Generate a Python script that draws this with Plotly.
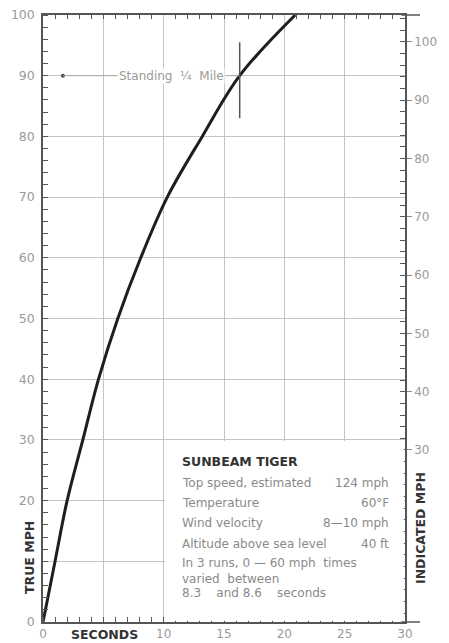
import plotly.graph_objects as go

# Data
seconds = [0, 0.4, 1.0, 2.0, 3.3, 4.6, 6.2, 8.1, 10.3, 13.2, 16.3, 20.9]
true_mph = [0, 4, 10, 20, 30, 40, 50, 60, 70, 80, 90, 100]

x_tickvals = [0, 5, 10, 15, 20, 25, 30]
x_ticktext = ["0", "", "10", "15", "20", "25", "30"]
y_tickvals = [0, 10, 20, 30, 40, 50, 60, 70, 80, 90, 100]
y_ticktext = ["0", "", "20", "30", "40", "50", "60", "70", "80", "90", "100"]
ind_tickvals = [30, 40, 50, 60, 70, 80, 90, 100]
ind_range = [0.5, 104.6]

quarter_mile_time = 16.3
quarter_mile_speed = 90
quarter_marker_time = 1.66

info_rows = [
    ("Top speed, estimated", "124 mph"),
    ("Temperature", "60°F"),
    ("Wind velocity", "8—10 mph"),
    ("Altitude above sea level", "40 ft"),
]
info_note = ["In 3 runs, 0 — 60 mph  times", "varied  between", "8.3    and 8.6    seconds"]

FONT = "DejaVu Sans"
GRAY = "#9a9a9a"
TXT = "#8a8a8a"
DARK = "#333333"
AX = "#555555"
GRID = "#c4c4c4"

W, H = 449, 643
L, R, T, B = 43, 44, 15, 21
pw, ph = W - L - R, H - T - B

fig = go.Figure()

# main curve
fig.add_trace(go.Scatter(x=seconds, y=true_mph, mode="lines",
                         line=dict(color="#1e1e1e", width=3, shape="spline", smoothing=1.0),
                         hoverinfo="skip", showlegend=False, cliponaxis=True))

# standing quarter mile marker
fig.add_trace(go.Scatter(x=[quarter_marker_time], y=[quarter_mile_speed], mode="markers",
                         marker=dict(color="#444", size=4), showlegend=False, hoverinfo="skip"))
fig.add_trace(go.Scatter(x=[quarter_marker_time, 6.1], y=[quarter_mile_speed]*2, mode="lines",
                         line=dict(color="#aaaaaa", width=1), showlegend=False, hoverinfo="skip"))
fig.add_trace(go.Scatter(x=[15.2, quarter_mile_time], y=[quarter_mile_speed]*2, mode="lines",
                         line=dict(color="#aaaaaa", width=1), showlegend=False, hoverinfo="skip"))
fig.add_trace(go.Scatter(x=[quarter_mile_time]*2, y=[83, 95.5], mode="lines",
                         line=dict(color="#555", width=1.5), showlegend=False, hoverinfo="skip"))

# invisible trace to instantiate overlay axes
fig.add_trace(go.Scatter(x=[0], y=[50], xaxis="x2", yaxis="y2", mode="markers",
                         marker=dict(opacity=0), showlegend=False, hoverinfo="skip"))

fig.add_annotation(x=6.2, y=quarter_mile_speed, xref="x", yref="y", text="Standing  ¼  Mile",
                   showarrow=False, xanchor="left", yanchor="middle",
                   font=dict(family=FONT, size=12, color=GRAY), bgcolor="white", borderpad=0)

# info box
fig.add_shape(type="rect", xref="x", yref="y", x0=10.1, x1=29.9, y0=0.2, y1=29.8,
              fillcolor="white", line=dict(width=0), layer="above")

# top and bottom frame lines running a little past the right axis
ext = (420 - L) / pw
for yy in (0, 1):
    fig.add_shape(type="line", xref="paper", yref="paper", x0=0.99, x1=ext, y0=yy, y1=yy,
                  line=dict(color=AX, width=1.5), layer="above")

left_x = 11.35
right_x = 28.8
fig.add_annotation(x=left_x, y=26.4, text="<b>SUNBEAM TIGER</b>", showarrow=False,
                   xanchor="left", yanchor="middle", font=dict(family=FONT, size=12.5, color=DARK))
row_y = [22.9, 19.6, 16.3, 12.9]
for (lab, val), yy in zip(info_rows, row_y):
    fig.add_annotation(x=left_x, y=yy, text=lab, showarrow=False, xanchor="left", yanchor="middle",
                       font=dict(family=FONT, size=12, color=TXT))
    fig.add_annotation(x=right_x, y=yy, text=val, showarrow=False, xanchor="right", yanchor="middle",
                       font=dict(family=FONT, size=12, color=TXT))
for line, yy in zip(info_note, [9.7, 7.1, 4.8]):
    fig.add_annotation(x=left_x, y=yy, text=line, showarrow=False, xanchor="left", yanchor="middle",
                       font=dict(family=FONT, size=12, color=TXT))

# axis titles placed at pixel positions (converted to paper coordinates)
titles = [("<b>TRUE MPH</b>", 29, 558, -90), ("<b>SECONDS</b>", 104, 634, 0),
          ("<b>INDICATED MPH</b>", 420, 528, -90)]
for txt, px, py, ang in titles:
    fig.add_annotation(x=(px - L) / pw, y=(H - B - py) / ph, xref="paper", yref="paper",
                       text=txt, textangle=ang, showarrow=False, xanchor="center", yanchor="middle",
                       font=dict(family=FONT, size=12.5, color=DARK))

fig.update_layout(
    width=W, height=H,
    margin=dict(l=L, r=R, t=T, b=B, autoexpand=False),
    plot_bgcolor="white", paper_bgcolor="white",
    showlegend=False,
    xaxis=dict(range=[0, 30], tickvals=x_tickvals, ticktext=x_ticktext, automargin=False,
               showgrid=True, gridcolor=GRID, gridwidth=1, zeroline=False,
               showline=True, linecolor=AX, linewidth=1.5, ticks="",
               tickfont=dict(family=FONT, size=12, color=GRAY),
               minor=dict(dtick=1, tick0=0, ticks="inside", ticklen=5, tickcolor=AX, showgrid=False)),
    yaxis=dict(range=[0, 100], tickvals=y_tickvals, ticktext=y_ticktext, automargin=False,
               showgrid=True, gridcolor=GRID, gridwidth=1, zeroline=False,
               showline=True, linecolor=AX, linewidth=1.5, ticks="",
               tickfont=dict(family=FONT, size=12.5, color=GRAY), ticklabelstandoff=4,
               minor=dict(dtick=2, tick0=0, ticks="inside", ticklen=5, tickcolor=AX, showgrid=False)),
    xaxis2=dict(range=[0, 30], overlaying="x", side="top", anchor="y", showgrid=False,
                zeroline=False, showline=True, linecolor=AX, linewidth=1.5, ticks="",
                showticklabels=False, automargin=False,
                minor=dict(dtick=1, tick0=0, ticks="inside", ticklen=4, tickcolor=AX, showgrid=False)),
    yaxis2=dict(range=ind_range, overlaying="y", side="right", anchor="x", showgrid=False,
                zeroline=False, showline=True, linecolor=AX, linewidth=1.5, automargin=False,
                tickvals=ind_tickvals, ticks="outside", ticklen=5, tickcolor="#888",
                tickfont=dict(family=FONT, size=12, color=GRAY),
                minor=dict(dtick=2, tick0=0, ticks="inside", ticklen=5, tickcolor=AX, showgrid=False)),
)

fig.write_html("out.html")
